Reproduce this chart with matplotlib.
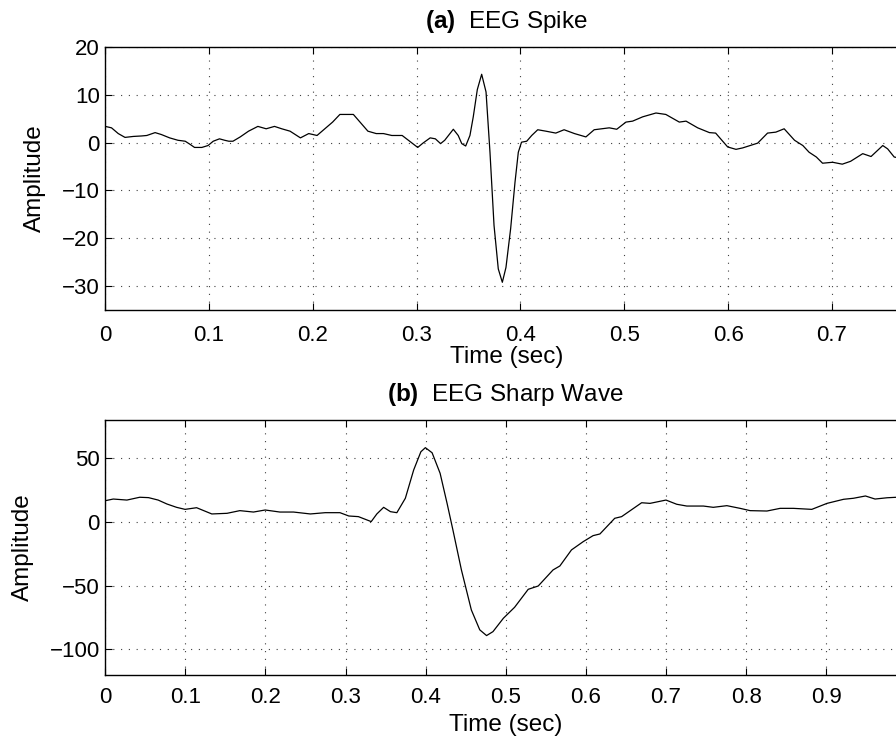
import matplotlib
matplotlib.use("Agg")
import matplotlib.pyplot as plt
import matplotlib.transforms as mtransforms
import numpy as np

plt.rcParams['font.family'] = ['Liberation Sans', 'DejaVu Sans']
plt.rcParams['mathtext.fontset'] = 'custom'
plt.rcParams['mathtext.bf'] = 'Liberation Sans:bold'
plt.rcParams['mathtext.rm'] = 'Liberation Sans'

# (a) EEG spike
t_spike = [0.000, 0.006, 0.0125, 0.019, 0.027, 0.035, 0.040, 0.048, 0.054, 0.062,
           0.070, 0.077, 0.082, 0.086, 0.093, 0.099, 0.104, 0.110, 0.115, 0.119,
           0.123, 0.130, 0.138, 0.147, 0.155, 0.163, 0.170, 0.178, 0.188, 0.196,
           0.204, 0.219, 0.226, 0.239, 0.253, 0.261, 0.268, 0.276, 0.286, 0.292,
           0.301, 0.306, 0.313, 0.318, 0.323, 0.327, 0.3353, 0.340, 0.3434, 0.3472,
           0.3513, 0.3545, 0.3584, 0.3626, 0.3668, 0.3706, 0.3745, 0.3786, 0.3825, 0.386,
           0.3905, 0.3947, 0.3979, 0.401, 0.406, 0.4108, 0.4166, 0.4245, 0.434, 0.442,
           0.452, 0.463, 0.471, 0.4855, 0.4927, 0.5016, 0.508, 0.5177, 0.5305, 0.540,
           0.553, 0.5595, 0.5707, 0.582, 0.588, 0.5996, 0.6076, 0.614, 0.6285, 0.638,
           0.646, 0.654, 0.664, 0.672, 0.678, 0.685, 0.691, 0.7007, 0.710, 0.718,
           0.7297, 0.7377, 0.749, 0.7537, 0.760, 0.7734]
amp_spike = [3.4, 3.1, 1.9, 1.1, 1.3, 1.4, 1.5, 2.1, 1.7, 1.0,
             0.5, 0.3, -0.4, -1.0, -1.0, -0.6, 0.3, 0.8, 0.5, 0.3,
             0.3, 1.2, 2.4, 3.4, 2.9, 3.4, 2.9, 2.4, 1.0, 1.9,
             1.5, 4.3, 5.9, 5.9, 2.4, 1.9, 1.9, 1.5, 1.5, 0.5,
             -1.0, -0.1, 1.0, 0.8, -0.2, 0.5, 2.8, 1.5, -0.2, -0.7,
             1.5, 5.4, 11.1, 14.3, 10.6, -2.0, -17.3, -26.4, -29.2, -26.1,
             -18.0, -8.3, -2.0, 0.1, 0.3, 1.5, 2.7, 2.4, 2.0, 2.7,
             1.9, 1.2, 2.7, 3.1, 2.8, 4.3, 4.5, 5.4, 6.2, 5.9,
             4.3, 4.5, 3.1, 2.1, 2.0, -0.9, -1.4, -1.1, -0.1, 2.0,
             2.2, 2.9, 0.5, -0.6, -2.0, -3.0, -4.3, -4.1, -4.5, -3.9,
             -2.3, -2.9, -0.6, -1.3, -3.0, -3.6]

# (b) EEG sharp wave
t_sharp = [0.000, 0.010, 0.027, 0.043, 0.054, 0.066, 0.077, 0.089, 0.0996, 0.114,
           0.133, 0.152, 0.168, 0.185, 0.1996, 0.218, 0.235, 0.256, 0.2746, 0.293,
           0.304, 0.316, 0.332, 0.339, 0.3475, 0.356, 0.364, 0.3746, 0.385, 0.394,
           0.3996, 0.408, 0.418, 0.4267, 0.434, 0.4446, 0.457, 0.4675, 0.476, 0.484,
           0.497, 0.511, 0.528, 0.5405, 0.559, 0.5675, 0.582, 0.5967, 0.609, 0.6175,
           0.636, 0.6446, 0.6696, 0.680, 0.700, 0.7134, 0.726, 0.7467, 0.759, 0.776,
           0.7925, 0.805, 0.826, 0.8425, 0.859, 0.882, 0.901, 0.9217, 0.934, 0.949,
           0.961, 0.976, 0.988, 1.000]
amp_sharp = [16.7, 18.0, 17.2, 19.4, 19.1, 17.2, 14.1, 11.5, 9.9, 11.2,
             6.3, 6.8, 8.9, 7.8, 9.4, 7.8, 7.8, 6.3, 7.3, 7.3,
             4.7, 4.2, 0.3, 6.3, 11.5, 8.1, 7.3, 18.6, 40.8, 55.1,
             58.3, 54.3, 38.2, 14.6, -6.3, -37.6, -69.0, -84.6, -89.1, -86.0,
             -75.5, -66.9, -52.8, -50.2, -37.6, -34.5, -21.9, -15.4, -10.7, -9.4,
             2.9, 4.2, 15.1, 14.6, 17.2, 13.9, 12.5, 12.5, 11.5, 12.8,
             10.7, 8.9, 8.6, 10.7, 10.7, 9.9, 14.6, 17.8, 18.6, 20.4,
             18.0, 19.0, 19.4, 19.6]

fig = plt.figure(figsize=(8.96, 7.38), dpi=100)
# axes run past the right edge, as in the cropped original
ax1 = fig.add_axes([0.1175, 0.5799, 0.896, 0.3564])
ax2 = fig.add_axes([0.1175, 0.0854, 0.894, 0.3455])

panels = [
    (ax1, t_spike, amp_spike, (0, 0.7734), (-35, 20), np.arange(-30, 21, 10),
     r"$\mathbf{(a)}$  EEG Spike", 46, 346, 10.5),
    (ax2, t_sharp, amp_sharp, (0, 1.0), (-120, 80), [-100, -50, 0, 50],
     r"$\mathbf{(b)}$  EEG Sharp Wave", 34, 714, 8.5),
]

for ax, t, a, xl, yl, yt, title, ylab_px, xlab_px, xpad in panels:
    ax.plot(t, a, color='black', lw=0.9)
    ax.set_xlim(*xl)
    ax.set_ylim(*yl)
    xt = np.round(np.arange(0, xl[1] + 1e-9, 0.1), 1)
    ax.set_xticks(xt)
    # the label at 1.0 falls outside the cropped picture
    ax.set_xticklabels(['%g' % v if v < 0.95 else '' for v in xt])
    ax.set_yticks(yt)
    ax.grid(True, color='0.25', linestyle=(0, (1, 6)), linewidth=0.8)
    ax.tick_params(direction='in', length=5, width=0.8, top=True, right=True,
                   labelsize=16)
    ax.tick_params(axis='x', pad=xpad)
    ax.tick_params(axis='y', pad=4)
    for s in ax.spines.values():
        s.set_linewidth(1.0)
    ax.set_title(title, fontsize=17.5, pad=13.5)
    ax.set_xlabel('Time (sec)', fontsize=17.5)
    ax.set_ylabel('Amplitude', fontsize=17.5)
    ax.xaxis.set_label_coords(0.5, 1 - xlab_px / 738,
                              transform=mtransforms.blended_transform_factory(ax.transAxes, fig.transFigure))
    ax.yaxis.set_label_coords(ylab_px / 896, 0.5,
                              transform=mtransforms.blended_transform_factory(fig.transFigure, ax.transAxes))

fig.savefig('out.png', dpi=100)
